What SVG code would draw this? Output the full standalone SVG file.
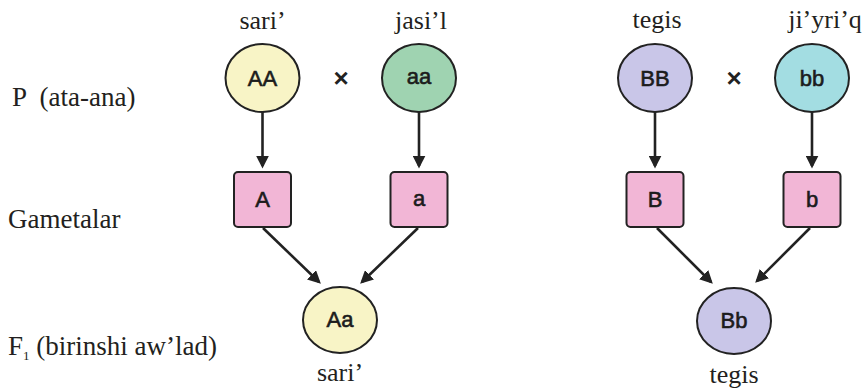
<svg xmlns="http://www.w3.org/2000/svg" width="866" height="390" viewBox="0 0 866 390">
  <style>
    .lbl { font-family: "Liberation Serif", "Times New Roman", serif; font-size: 26px; fill: #231f20; }
    .row { font-size: 27px; }
    .gen { font-family: "Liberation Sans", Arial, sans-serif; font-size: 22px; fill: #1c1c1c; stroke: #1c1c1c; stroke-width: 0.6; text-anchor: middle; dominant-baseline: central; }
    .cross { font-family: "Liberation Sans", Arial, sans-serif; font-size: 26px; font-weight: bold; fill: #222; text-anchor: middle; dominant-baseline: central; }
    .node { stroke: #222; stroke-width: 2; }
    .yellow { fill: #f8f4c6; }
    .green { fill: #9fd3b1; }
    .lav { fill: #c9c6e8; }
    .cyan { fill: #a3dde2; }
    .box { fill: #f2b6d6; stroke: #222; stroke-width: 2; }
    .conn line { stroke: #222; stroke-width: 2.6; fill: none; marker-end: url(#arr); }
  </style>
  <defs>
    <marker id="arr" viewBox="0 0 10 10" refX="8" refY="5" markerWidth="13" markerHeight="13" markerUnits="userSpaceOnUse" orient="auto">
      <path d="M0,0 L10,5 L0,10 z" fill="#222"/>
    </marker>
  </defs>
  <rect width="866" height="390" fill="#ffffff"/>

  <!-- row labels -->
  <g id="row-labels">
    <text class="lbl row" x="12" y="106" xml:space="preserve">P  (ata-ana)</text>
    <text class="lbl row" x="8" y="228">Gametalar</text>
    <text class="lbl row" x="8" y="355">F<tspan font-size="13" dy="5">1</tspan><tspan dy="-5" xml:space="preserve"> (birinshi aw’lad)</tspan></text>
  </g>

  <!-- connectors -->
  <g id="connectors" class="conn">
    <line x1="262.5" y1="112" x2="262.5" y2="166"/>
    <line x1="419" y1="112" x2="419" y2="166"/>
    <line x1="263" y1="228" x2="319" y2="282"/>
    <line x1="418" y1="228" x2="362" y2="282"/>
    <line x1="655" y1="112" x2="655" y2="166"/>
    <line x1="812" y1="112" x2="812" y2="166"/>
    <line x1="657" y1="228" x2="711" y2="282"/>
    <line x1="810" y1="228" x2="757" y2="281"/>
  </g>

  <!-- parents, left cross -->
  <g id="node-AA">
    <text class="lbl" x="262.5" y="29" text-anchor="middle">sari’</text>
    <ellipse class="node yellow" cx="262.5" cy="78" rx="37" ry="34"/>
    <text class="gen" x="262.5" y="78">AA</text>
  </g>
  <g id="cross-left"><text class="cross" x="341" y="78">×</text></g>
  <g id="node-aa">
    <text class="lbl" x="421" y="29" text-anchor="middle">jasi’l</text>
    <ellipse class="node green" cx="419" cy="78" rx="37" ry="34"/>
    <text class="gen" x="419" y="76">aa</text>
  </g>

  <!-- gametes left -->
  <g id="node-A">
    <rect class="box" x="234" y="172" width="57" height="55" rx="4"/>
    <text class="gen" x="262.5" y="199.5">A</text>
  </g>
  <g id="node-a">
    <rect class="box" x="390.5" y="172" width="57" height="55" rx="4"/>
    <text class="gen" x="419" y="198">a</text>
  </g>

  <!-- F1 left -->
  <g id="node-Aa">
    <ellipse class="node yellow" cx="340" cy="320" rx="37" ry="33"/>
    <text class="gen" x="340" y="319">Aa</text>
    <text class="lbl" x="340" y="381" text-anchor="middle">sari’</text>
  </g>

  <!-- parents, right cross -->
  <g id="node-BB">
    <text class="lbl" x="657" y="28" text-anchor="middle">tegis</text>
    <ellipse class="node lav" cx="655" cy="78" rx="37" ry="34"/>
    <text class="gen" x="655" y="78">BB</text>
  </g>
  <g id="cross-right"><text class="cross" x="734" y="78">×</text></g>
  <g id="node-bb">
    <text class="lbl" x="825" y="28" text-anchor="middle">ji’yri’q</text>
    <ellipse class="node cyan" cx="812" cy="78" rx="37" ry="34"/>
    <text class="gen" x="812" y="78">bb</text>
  </g>

  <!-- gametes right -->
  <g id="node-B">
    <rect class="box" x="626.5" y="172" width="57" height="55" rx="4"/>
    <text class="gen" x="655" y="199.5">B</text>
  </g>
  <g id="node-b">
    <rect class="box" x="783.5" y="172" width="57" height="55" rx="4"/>
    <text class="gen" x="812" y="199.5">b</text>
  </g>

  <!-- F1 right -->
  <g id="node-Bb">
    <ellipse class="node lav" cx="734" cy="321" rx="37" ry="33"/>
    <text class="gen" x="734" y="320">Bb</text>
    <text class="lbl" x="734" y="383" text-anchor="middle">tegis</text>
  </g>
</svg>
